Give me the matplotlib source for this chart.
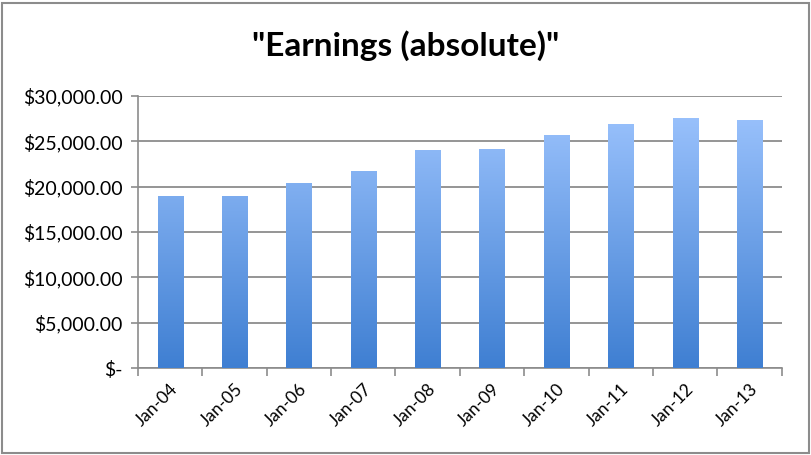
import numpy as np
import matplotlib.pyplot as plt
from matplotlib.patches import Rectangle
from matplotlib.colors import LinearSegmentedColormap
from matplotlib.ticker import FuncFormatter, FixedLocator

# data
years = ["Jan-04", "Jan-05", "Jan-06", "Jan-07", "Jan-08",
         "Jan-09", "Jan-10", "Jan-11", "Jan-12", "Jan-13"]
earnings = [19000, 18950, 20450, 21750, 24050, 24150, 25650, 26900, 27550, 27350]

plt.rcParams['font.family'] = ['Lato', 'DejaVu Sans']

fig = plt.figure(figsize=(8.11, 4.55), dpi=100)
ax = fig.add_axes([0.170, 0.191, 0.794, 0.598])

x = np.arange(len(years))
bars = ax.bar(x, earnings, width=0.39, color='none', zorder=3)

# vertical gradient inside each bar, like the Excel fill
cmap = LinearSegmentedColormap.from_list("excel_blue", ["#3f7fd2", "#a0c6ff"])
grad = np.linspace(0, 1, 256).reshape(-1, 1)
for b in bars:
    bx = b.get_x()
    im = ax.imshow(grad, cmap=cmap, origin='lower', aspect='auto',
                   extent=[bx, bx + b.get_width(), 0, 30000], zorder=3)
    im.set_clip_path(b)

ax.set_xlim(-0.5, len(years) - 0.5)
ax.set_ylim(0, 30000)
ax.set_yticks(np.arange(0, 30001, 5000))

def money(v, pos):
    if v == 0:
        return "$-"
    return "${:,.2f}".format(v)

ax.yaxis.set_major_formatter(FuncFormatter(money))
ax.set_xticks(x)
ax.set_xticklabels(years, rotation=45, ha='right', rotation_mode='anchor')
ax.xaxis.set_minor_locator(FixedLocator(np.arange(-0.5, len(years), 1)))

ax.grid(axis='y', color='#8c8c8c', linewidth=1.3, zorder=0)
ax.set_axisbelow(True)
for s in ['top', 'right']:
    ax.spines[s].set_visible(False)
for s in ['left', 'bottom']:
    ax.spines[s].set_color('#8c8c8c')
    ax.spines[s].set_linewidth(1.2)

ax.tick_params(axis='y', length=5, color='#8c8c8c', width=1.2, labelsize=14, pad=6)
ax.tick_params(axis='x', which='major', length=0, labelsize=12.5, pad=9)
ax.tick_params(axis='x', which='minor', length=6, color='#8c8c8c', width=1.2)

fig.text(0.5, 0.9, '"Earnings (absolute)"', ha='center', va='center',
         fontsize=24, fontweight='bold')

# outer chart border
fig.patches.append(Rectangle((0.003, 0.004), 0.994, 0.99, transform=fig.transFigure,
                             fill=False, edgecolor='#8c8c8c', linewidth=1.5))

plt.savefig("out.png", dpi=100)
